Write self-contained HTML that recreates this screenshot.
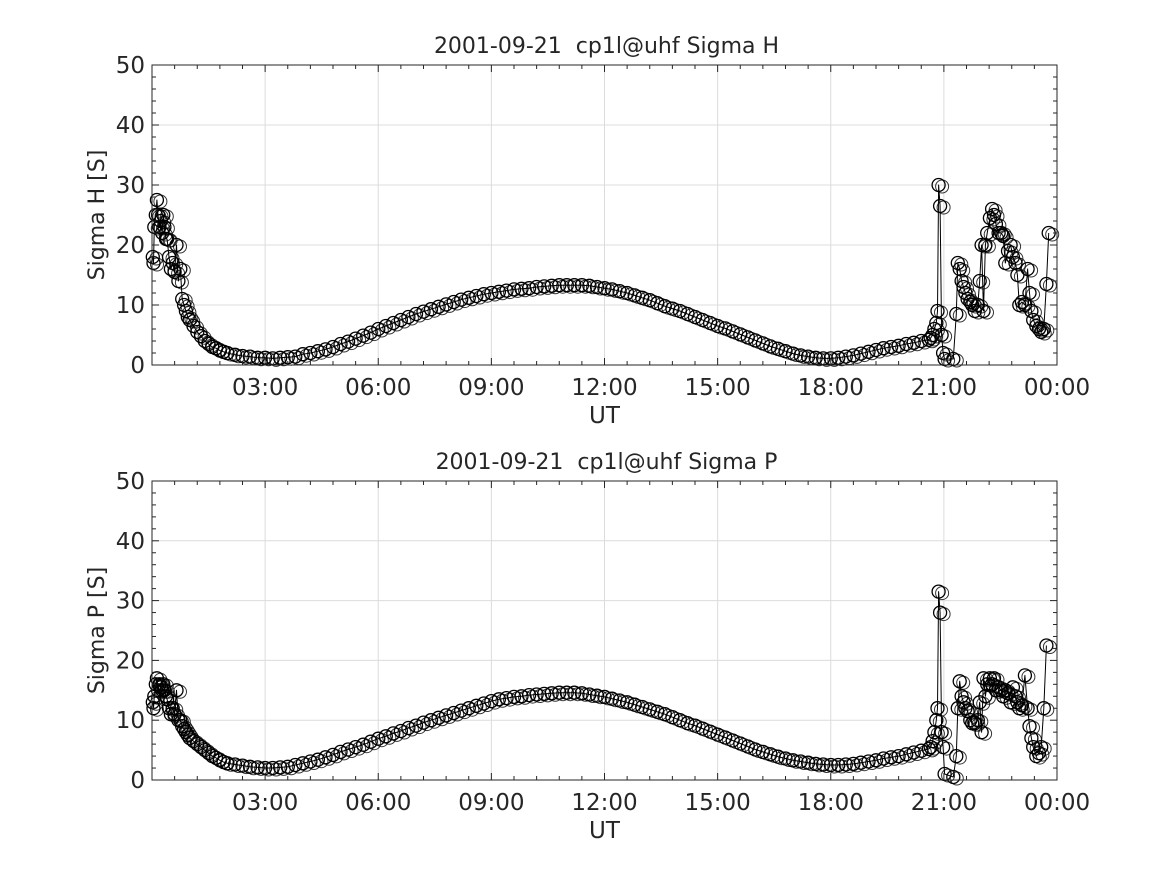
<!DOCTYPE html>
<html><head><meta charset="utf-8"><style>
body{margin:0;background:#fff;width:1167px;height:875px;overflow:hidden}
svg text{font-family:"DejaVu Sans","Liberation Sans",sans-serif;fill:#262626;white-space:pre}
</style></head><body>
<svg id="chart" width="1167" height="875" xmlns="http://www.w3.org/2000/svg"></svg>
<script>
const xTickLabels=["03:00","06:00","09:00","12:00","15:00","18:00","21:00","00:00"];
const yTickLabels=["0","10","20","30","40","50"];
const hoursH=[0.02,0.04,0.06,0.1,0.13,0.16,0.2,0.23,0.27,0.3,0.33,0.37,0.4,0.45,0.5,0.55,0.6,0.65,0.7,0.75,0.8,0.85,0.9,0.95,1.0,1.1,1.2,1.3,1.4,1.5,1.6,1.7,1.8,1.9,2.0,2.2,2.4,2.6,2.8,3.0,3.2,3.4,3.6,3.8,4.0,4.2,4.4,4.6,4.8,5.0,5.2,5.4,5.6,5.8,6.0,6.2,6.4,6.6,6.8,7.0,7.2,7.4,7.6,7.8,8.0,8.2,8.4,8.6,8.8,9.0,9.2,9.4,9.6,9.8,10.0,10.2,10.4,10.6,10.8,11.0,11.2,11.4,11.6,11.8,12.0,12.2,12.4,12.6,12.8,13.0,13.2,13.4,13.6,13.8,14.0,14.2,14.4,14.6,14.8,15.0,15.2,15.4,15.6,15.8,16.0,16.2,16.4,16.6,16.8,17.0,17.2,17.4,17.6,17.8,18.0,18.2,18.4,18.6,18.8,19.0,19.2,19.4,19.6,19.8,20.0,20.2,20.4,20.6,20.65,20.7,20.75,20.8,20.83,20.86,20.9,20.94,20.98,21.02,21.25,21.33,21.37,21.42,21.47,21.52,21.57,21.63,21.7,21.75,21.82,21.9,21.95,22.0,22.05,22.1,22.15,22.22,22.28,22.33,22.38,22.45,22.52,22.57,22.63,22.7,22.77,22.83,22.9,22.95,23.0,23.07,23.15,23.22,23.27,23.32,23.37,23.45,23.52,23.58,23.65,23.72,23.78,23.83,23.92];
const sigmaH=[18,17,23,25,27.5,25,23,24,22,25,23,21,21,18,16,17,15.5,20,14,16,11,10,9,8,7.5,6.5,5.5,4.8,4,3.5,3,2.8,2.4,2.2,2,1.7,1.5,1.4,1.2,1.2,1.1,1.2,1.3,1.4,1.8,2,2.3,2.6,3,3.5,3.9,4.4,4.9,5.4,6,6.5,7,7.5,8,8.5,8.9,9.3,9.7,10.1,10.5,10.9,11.2,11.5,11.8,12,12.2,12.4,12.6,12.7,12.8,13,13.1,13.2,13.3,13.3,13.3,13.3,13.2,13,12.8,12.6,12.3,12,11.6,11.2,10.8,10.3,9.8,9.4,9,8.5,8,7.5,7,6.5,6.1,5.6,5.1,4.6,4.1,3.6,3.1,2.7,2.3,1.9,1.6,1.4,1.2,1.1,1.1,1.2,1.4,1.6,1.9,2.2,2.5,2.8,3,3.2,3.5,3.7,4,4.2,4.5,5,6,7,9,30,26.5,5,2,1,1,8.5,17,16,14,13,12,11,10.5,10,9,10,14,20,9,20,22,24.5,26,25,23.5,22,22,21.5,17,19,20,18,17,15,10,10.5,10,16,12,9,7.5,6.5,6,5.5,6,13.5,22];
const hoursP=hoursH.slice();
const sigmaP=[13,12,14,16,17,15,16,15.5,15,16,15,14,13.5,12,11,12,11,15,10,10,9,8.5,8,7.5,7,6.5,6,5.5,5,4.5,4,3.7,3.3,3,2.8,2.6,2.4,2.2,2.1,2,2,2.1,2.2,2.5,2.8,3.1,3.4,3.8,4.2,4.7,5.1,5.5,5.9,6.4,6.9,7.3,7.8,8.2,8.7,9.1,9.6,10,10.4,10.8,11.2,11.6,12,12.4,12.8,13.2,13.5,13.7,13.9,14,14.2,14.3,14.4,14.5,14.6,14.6,14.6,14.5,14.3,14.1,13.9,13.6,13.3,13,12.6,12.2,11.8,11.4,11,10.5,10,9.5,9.1,8.6,8.1,7.6,7.1,6.6,6.1,5.6,5.1,4.7,4.3,3.9,3.6,3.3,3.1,2.9,2.7,2.6,2.5,2.5,2.6,2.7,2.9,3.1,3.3,3.6,3.8,4,4.3,4.6,4.9,5.2,5.5,6.5,8,10,12,31.5,28,8,5.5,1,0.5,4,12,16.5,14,13,12,11.5,10,9.5,9.5,10,13,8,17,14,16,17,16,17,15,15.5,15,14,15,14.5,13,15.5,14,13,12,12.5,17.5,12,9,7,5.5,4,4.5,5.5,12,22.5];

const svg=document.getElementById('chart');
const NS='http://www.w3.org/2000/svg';
function mk(tag,attrs,parent){const e=document.createElementNS(NS,tag);for(const k in attrs)e.setAttribute(k,attrs[k]);(parent||svg).appendChild(e);return e;}
const X0=152,X1=1057;
function xScale(h){return X0+(X1-X0)*h/24;}

function panel(top,bottom,title,ylabel,hours,vals,key){
  const n=Math.min(hours.length,vals.length);
  const g=mk('g',{});
  
  
  const yScale=v=>bottom-(bottom-top)*v/50;
  for(let i=1;i<=8;i++){const x=xScale(i*3);const l=mk('line',{x1:x,x2:x,y1:top,y2:bottom,stroke:'#dcdcdc','stroke-width':1},g);}
  for(let i=1;i<5;i++){const y=yScale(i*10);const l=mk('line',{x1:X0,x2:X1,y1:y,y2:y,stroke:'#dcdcdc','stroke-width':1},g);}
  let d='';for(let i=0;i<n;i++){d+=(i?'L':'M')+xScale(hours[i]).toFixed(1)+' '+yScale(vals[i]).toFixed(1);}
  const p=mk('path',{d:d,fill:'none',stroke:'#000','stroke-width':1,'stroke-linejoin':'round'},g);
  
  
  for(let i=0;i<n;i++){const c=mk('circle',{cx:xScale(hours[i]).toFixed(1),cy:yScale(vals[i]).toFixed(1),r:6.5,fill:'none',stroke:'#000','stroke-width':1.3},g);
    
    }
  // second, slightly offset ring per point to mimic the dense overlapping markers
  for(let i=0;i<n;i++){const c=mk('circle',{cx:(xScale(hours[i])+3.5).toFixed(1),cy:(yScale(vals[i])+1.5).toFixed(1),r:6.5,fill:'none',stroke:'#000','stroke-width':1,opacity:0.8},g);
    
    }
  const b=mk('rect',{x:X0,y:top,width:X1-X0,height:bottom-top,fill:'none',stroke:'#262626','stroke-width':1},g);
  
  
  for(let i=0;i<=40;i++){const x=xScale(i*0.6);const len=i%5==0?7:4;
    mk('line',{x1:x,x2:x,y1:bottom,y2:bottom-len,stroke:'#262626'},g);mk('line',{x1:x,x2:x,y1:top,y2:top+len,stroke:'#262626'},g);}
  for(let i=0;i<=25;i++){const y=yScale(i*2);const len=i%5==0?7:4;
    mk('line',{x1:X0,x2:X0+len,y1:y,y2:y,stroke:'#262626'},g);mk('line',{x1:X1,x2:X1-len,y1:y,y2:y,stroke:'#262626'},g);}
  xTickLabels.forEach((t,i)=>{const e=mk('text',{x:xScale((i+1)*3),y:bottom+30,'text-anchor':'middle',style:'font-size:23px'},g);e.textContent=t;
    
    });
  yTickLabels.forEach((t,i)=>{const e=mk('text',{x:X0-7,y:yScale(i*10)+8,'text-anchor':'end',style:'font-size:23px'},g);e.textContent=t;
    
    });
  const tt=mk('text',{x:(X0+X1)/2+2,y:top-12,'text-anchor':'middle',style:'font-size:22px'},g);tt.textContent=title;
  
  
  const xl=mk('text',{x:(X0+X1)/2,y:bottom+58,'text-anchor':'middle',style:'font-size:23px'},g);xl.textContent='UT';
  
  
  const cy=(top+bottom)/2;
  const yl=mk('text',{x:104,y:cy,'text-anchor':'middle',style:'font-size:22px',transform:'rotate(-90 104 '+cy+')'},g);yl.textContent=ylabel;
  
  
}
panel(65,365,'2001-09-21  cp1l@uhf Sigma H','Sigma H [S]',hoursH,sigmaH,'sigma-h');
panel(481,780,'2001-09-21  cp1l@uhf Sigma P','Sigma P [S]',hoursP,sigmaP,'sigma-p');
</script>
</body></html>
